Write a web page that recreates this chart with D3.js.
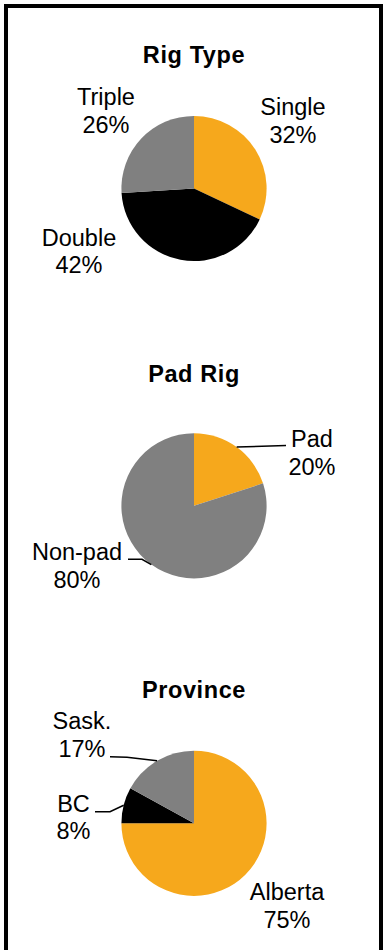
<!DOCTYPE html>
<html>
<head>
<meta charset="utf-8">
<script src="https://cdn.jsdelivr.net/npm/d3@7"></script>
<style>
  html, body { margin: 0; padding: 0; background: #fff; }
  svg { display: block; }
</style>
</head>
<body>
<script>
// Data
const rigTypeCats = ["Single", "Double", "Triple"];
const rigTypeVals = [32, 42, 26];
const padCats = ["Pad", "Non-pad"];
const padVals = [20, 80];
const provCats = ["Alberta", "BC", "Sask."];
const provVals = [75, 8, 17];
const chartTitles = ["Rig Type", "Pad Rig", "Province"];

const W = 384, H = 950;
const svg = d3.select("body").append("svg").attr("width", W).attr("height", H);

svg.append("rect").attr("x", 6).attr("y", 6).attr("width", 375).attr("height", 960)
  .attr("fill", "#fff").attr("stroke", "#000").attr("stroke-width", 4);

const color = d3.scaleOrdinal()
  .domain(["Single", "Double", "Triple", "Pad", "Non-pad", "Alberta", "BC", "Sask."])
  .range(["#F6A81C", "#000000", "#808080", "#F6A81C", "#808080", "#F6A81C", "#000000", "#808080"]);

const font = "'Liberation Sans', Arial, sans-serif";

const charts = [
  { title: chartTitles[0], cats: rigTypeCats, vals: rigTypeVals, cy: 188.5, ty: 63,
    labels: { "Single": [293, 115], "Double": [79, 245.7], "Triple": [106, 105] }, leaders: {} },
  { title: chartTitles[1], cats: padCats, vals: padVals, cy: 505.8, ty: 382.3,
    labels: { "Pad": [312, 447.3], "Non-pad": [77, 560] },
    leaders: { "Pad": [[286, 445.5]], "Non-pad": [[128, 559.3], [142, 559.3]] } },
  { title: chartTitles[2], cats: provCats, vals: provVals, cy: 823.3, ty: 698.3,
    labels: { "Alberta": [287, 900], "BC": [73.5, 811.7], "Sask.": [82, 729] },
    leaders: { "BC": [[95, 811.7], [110, 811.7]], "Sask.": [[110, 756.7], [127, 757.3]] } }
];

const cx = 194, R = 72.6;
const pie = d3.pie().sort(null).value(d => d.v);
const arc = d3.arc().innerRadius(0).outerRadius(R);

charts.forEach(c => {
  const data = c.cats.map((k, i) => ({ k, v: c.vals[i] }));
  const g = svg.append("g").attr("transform", `translate(${cx},${c.cy})`);
  const arcs = pie(data);
  g.selectAll("path").data(arcs).join("path")
    .attr("d", arc).attr("fill", d => color(d.data.k));

  svg.append("text").attr("x", cx).attr("y", c.ty)
    .attr("text-anchor", "middle").attr("font-family", font)
    .attr("font-weight", "bold").attr("font-size", 23.5)
    .attr("letter-spacing", 0.6)
    .text(c.title);

  arcs.forEach(a => {
    const k = a.data.k;
    const lp = c.labels[k];
    const t = svg.append("text").attr("font-family", font).attr("font-size", 23.5)
      .attr("text-anchor", "middle").attr("fill", "#000");
    t.append("tspan").attr("x", lp[0]).attr("y", lp[1]).text(k);
    t.append("tspan").attr("x", lp[0]).attr("y", lp[1] + 27.5).text(a.data.v + "%");
    if (c.leaders[k]) {
      const mid = (a.startAngle + a.endAngle) / 2;
      const px = cx + R * Math.sin(mid), py = c.cy - R * Math.cos(mid);
      const pts = c.leaders[k].concat([[px, py]]);
      svg.append("path").attr("d", d3.line()(pts))
        .attr("fill", "none").attr("stroke", "#000").attr("stroke-width", 1.5);
    }
  });
});
</script>
</body>
</html>
